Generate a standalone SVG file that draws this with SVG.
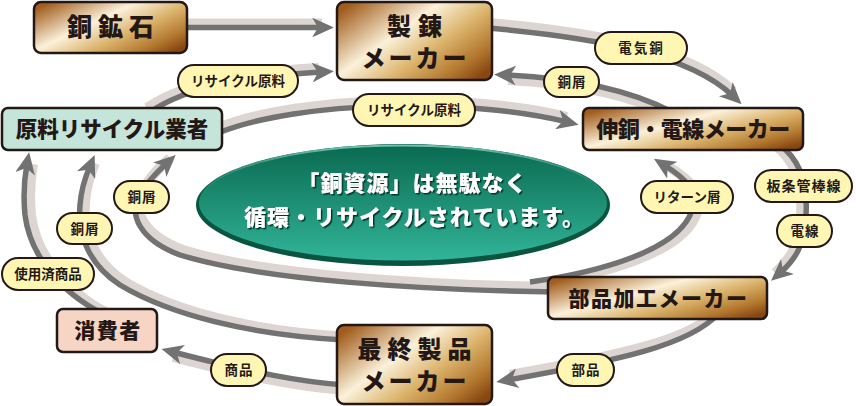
<svg xmlns="http://www.w3.org/2000/svg" xmlns:xlink="http://www.w3.org/1999/xlink" width="856" height="406" viewBox="0 0 856 406">
<defs>
  <linearGradient id="bronze" x1="0" y1="0.15" x2="1" y2="0.85">
    <stop offset="0" stop-color="#a15d1d"/>
    <stop offset="0.38" stop-color="#fbf1da"/>
    <stop offset="0.63" stop-color="#dbb36b"/>
    <stop offset="0.85" stop-color="#b47930"/>
    <stop offset="1" stop-color="#884612"/>
  </linearGradient>
  <linearGradient id="eg" x1="0" y1="0" x2="0" y2="1">
    <stop offset="0" stop-color="#0a6a51"/>
    <stop offset="1" stop-color="#31b498"/>
  </linearGradient>
  <linearGradient id="erim" x1="0" y1="0" x2="0" y2="1">
    <stop offset="0" stop-color="#6cc4ae"/>
    <stop offset="0.5" stop-color="#1a8a70" stop-opacity="0"/>
  </linearGradient>
  <filter id="ts" x="-10%" y="-30%" width="120%" height="160%">
    <feDropShadow dx="1.5" dy="1.5" stdDeviation="0.4" flood-color="#05382b"/>
  </filter>
  <marker id="ah" viewBox="0 0 11 10" markerWidth="4" markerHeight="3.6" refX="5" refY="5" orient="auto">
    <path d="M0,0 L11,5 L0,10 L3,5 Z" fill="#727272"/>
  </marker>
  <path id="c1" d="M185,27.5 L322,27.5"/>
  <path id="c2" d="M150,112 C190,85 250,76 322,72"/>
  <path id="c3" d="M218,133 C300,100 470,98 567,122"/>
  <path id="c4" d="M488,28 C600,38 690,55 733,96"/>
  <path id="c5" d="M672,112 C630,90 570,78 506,75"/>
  <path id="c6" d="M780,145 C800,160 808,185 806,215 C805,245 795,260 780,273"/>
  <path id="c7" d="M530,282 C600,272 680,250 692,210 C698,190 685,178 664,165"/>
  <path id="c8" d="M718,314 C690,345 620,360 508,380"/>
  <path id="c9" d="M345,385 C300,382 250,372 173,352"/>
  <path id="c10" d="M103,314 C60,292 30,255 25,215 C23,195 24,180 27,164"/>
  <path id="c11" d="M345,340 C250,335 170,315 120,285 C85,262 78,230 80,205 C81,190 84,180 90,166"/>
  <path id="c12" d="M555,292 C420,290 260,280 180,255 C140,240 128,215 140,195 C146,183 155,174 167,163"/>
</defs>
<style>
  .bands{fill:none;stroke:#dcd5d1;stroke-width:10;marker-end:none}
  .cores{fill:none;stroke:#727272;stroke-width:5.5}
  .box{fill:url(#bronze);stroke:#231815;stroke-width:2.5}
  .pill{fill:#fff6b3;stroke:#231815;stroke-width:2}
  .bt{font-family:"Noto Sans CJK JP","Noto Sans",sans-serif;font-weight:900;fill:#231815;text-anchor:middle}
  .lt{font-family:"Noto Sans CJK JP","Noto Sans",sans-serif;font-weight:700;fill:#231815;text-anchor:middle;font-size:13.5px}
  .et{font-family:"Noto Sans CJK JP","Noto Sans",sans-serif;font-weight:900;fill:#ffffff;text-anchor:middle;font-size:22px;letter-spacing:1px}
</style>
<rect width="856" height="406" fill="#ffffff"/>

<g id="center-ellipse">
  <ellipse cx="403" cy="205" rx="207" ry="61" fill="#0a5540"/>
  <ellipse cx="403" cy="203" rx="204" ry="57.5" fill="url(#eg)" stroke="url(#erim)" stroke-width="2"/>
  <g filter="url(#ts)">
    <text class="et" x="412.5" y="191">「銅資源」は無駄なく</text>
    <text class="et" x="414.5" y="225">循環・リサイクルされています。</text>
  </g>
</g>

<g id="connectors">
  <g class="bands">
    <use href="#c1" transform="translate(0,-4)"/>
    <use href="#c2" transform="translate(-3,-4)"/>
    <use href="#c3" transform="translate(0,-5)"/>
    <use href="#c4" transform="translate(0,-5)"/>
    <use href="#c5" transform="translate(2,5)"/>
    <use href="#c6" transform="translate(-5,0)"/>
    <use href="#c7" transform="translate(5,2)"/>
    <use href="#c8" transform="translate(2,-5)"/>
    <use href="#c9" transform="translate(0,5)"/>
    <use href="#c10" transform="translate(6,0)"/>
    <use href="#c11" transform="translate(5,-3)"/>
    <use href="#c12" transform="translate(3,-5)"/>
  </g>
  <g class="cores" marker-end="url(#ah)">
    <use href="#c1"/>
    <use href="#c2"/>
    <use href="#c3"/>
    <use href="#c4"/>
    <use href="#c5"/>
    <use href="#c6"/>
    <use href="#c7"/>
    <use href="#c8"/>
    <use href="#c9"/>
    <use href="#c10"/>
    <use href="#c11"/>
    <use href="#c12"/>
  </g>
  <g id="edge-labels">
    <rect class="pill" x="178" y="65" width="120" height="32" rx="16"/>
    <text class="lt" x="238" y="86">リサイクル原料</text>
    <rect class="pill" x="353" y="94" width="122" height="32" rx="16"/>
    <text class="lt" x="414" y="115">リサイクル原料</text>
    <rect class="pill" x="595" y="32" width="92" height="32" rx="16"/>
    <text class="lt" x="641.5" y="53" style="letter-spacing:2px">電気銅</text>
    <rect class="pill" x="544" y="67" width="55" height="30" rx="15"/>
    <text class="lt" x="572" y="87" style="letter-spacing:1px">銅屑</text>
    <rect class="pill" x="755" y="170" width="97" height="32" rx="16"/>
    <text class="lt" x="804" y="191" style="letter-spacing:1px;font-size:14px">板条管棒線</text>
    <rect class="pill" x="777" y="215" width="55" height="32" rx="16"/>
    <text class="lt" x="805" y="236" style="letter-spacing:1px">電線</text>
    <rect class="pill" x="641" y="181" width="92" height="32" rx="16"/>
    <text class="lt" x="687" y="202">リターン屑</text>
    <rect class="pill" x="557" y="354" width="57" height="32" rx="16"/>
    <text class="lt" x="586" y="375" style="letter-spacing:1px">部品</text>
    <rect class="pill" x="211" y="354" width="55" height="32" rx="16"/>
    <text class="lt" x="239" y="375" style="letter-spacing:1px">商品</text>
    <rect class="pill" x="2" y="258" width="92" height="32" rx="16"/>
    <text class="lt" x="48" y="279">使用済商品</text>
    <rect class="pill" x="57" y="213" width="55" height="31" rx="15.5"/>
    <text class="lt" x="85" y="233.5" style="letter-spacing:1px">銅屑</text>
    <rect class="pill" x="114" y="181" width="55" height="32" rx="16"/>
    <text class="lt" x="142" y="202" style="letter-spacing:1px">銅屑</text>
  </g>
</g>

<g id="node-dokouseki">
  <rect class="box" x="34" y="2" width="153" height="51" rx="7"/>
  <text class="bt" x="113.5" y="36" style="font-size:25px;letter-spacing:6px">銅鉱石</text>
</g>
<g id="node-seiren">
  <rect class="box" x="337" y="2" width="155" height="78" rx="7"/>
  <text class="bt" x="418" y="35" style="font-size:24px;letter-spacing:7px">製錬</text>
  <text class="bt" x="415.5" y="67" style="font-size:24px;letter-spacing:3px">メーカー</text>
</g>
<g id="node-shindo">
  <rect class="box" x="583" y="108" width="220" height="42" rx="6"/>
  <text class="bt" x="693" y="137" style="font-size:22px;letter-spacing:-0.5px">伸銅・電線メーカー</text>
</g>
<g id="node-recycler">
  <rect x="2" y="108" width="220" height="42" rx="6" fill="#c6e5da" stroke="#231815" stroke-width="2.5"/>
  <text class="bt" x="112" y="137" style="font-size:21.5px">原料リサイクル業者</text>
</g>
<g id="node-buhin">
  <rect class="box" x="548" y="277" width="219" height="42" rx="6"/>
  <text class="bt" x="658.5" y="306" style="font-size:21px;letter-spacing:1.5px">部品加工メーカー</text>
</g>
<g id="node-saishu">
  <rect class="box" x="337" y="325" width="155" height="79" rx="7"/>
  <text class="bt" x="417.5" y="358" style="font-size:24px;letter-spacing:6px">最終製品</text>
  <text class="bt" x="415.5" y="390" style="font-size:24px;letter-spacing:3px">メーカー</text>
</g>
<g id="node-shohisha">
  <rect x="57" y="309" width="100" height="43" rx="6" fill="#f6d5c5" stroke="#231815" stroke-width="2.5"/>
  <text class="bt" x="108" y="338" style="font-size:21px;letter-spacing:1.5px">消費者</text>
</g>
</svg>
